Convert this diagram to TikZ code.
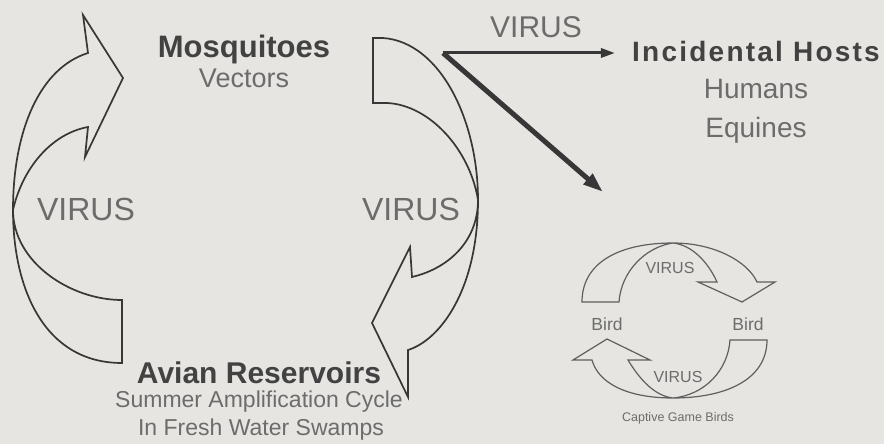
\documentclass[tikz,border=0pt]{standalone}
\usepackage{fontspec}
\setmainfont{Liberation Sans}
\usetikzlibrary{arrows.meta}
\definecolor{paper}{RGB}{230,229,226}
\definecolor{inkgray}{RGB}{55,55,55}
\definecolor{textgray}{RGB}{108,108,108}
\definecolor{headgray}{RGB}{66,66,66}

\begin{document}
\begin{tikzpicture}[x=1pt,y=-1pt,
    band/.style={draw=inkgray, line width=1.7pt, line join=miter},
    smallband/.style={draw=inkgray!80, line width=1.2pt, line join=miter},
    head/.style={font=\fontsize{#1}{#1}\selectfont\bfseries, text=headgray, anchor=base, inner sep=1pt},
    sub/.style={font=\fontsize{#1}{#1}\selectfont, text=textgray, anchor=base, inner sep=1pt},
    thick arrow/.style={draw=inkgray, line width=#1, line join=round}]
  % page, pixel units, y runs downwards
  \fill[paper] (0,0) rectangle (884,444);
  \useasboundingbox (0,0) rectangle (884,444);

  % big loop: left arrow goes up to the mosquitoes, right arrow comes down
  \draw[band] (122,363) -- (122,300)
    .. controls (70,300) and (13,262) .. (13,210)
    .. controls (22,170) and (50,134) .. (88,127)
    -- (85,157) -- (123,78) -- (83,15) -- (88,53)
    .. controls (40,68) and (13,130) .. (13,210)
    .. controls (13,290) and (45,363) .. (122,363) -- cycle;
  \draw[band] (373,103) -- (373,38) -- (383,38)
    .. controls (440,42) and (478,120) .. (478,200)
    .. controls (478,290) and (440,340) .. (408,350)
    -- (408,397) -- (372,323) -- (410,247) -- (412,277)
    .. controls (450,268) and (478,240) .. (478,200)
    .. controls (470,150) and (430,105) .. (387,103) -- cycle;

  \node[head=31] (mosq) at (244,58) {Mosquitoes};
  \node[sub=27] (vect) at (244,88) {Vectors};
  \node[sub=32] (virl) at (86,220) {VIRUS};
  \node[sub=32] (virr) at (411,220) {VIRUS};
  \node[head=30] (avian) at (259,383) {Avian Reservoirs};
  \node[sub=23] (summer) at (259,407) {Summer Amplification Cycle};
  \node[sub=23] (swamp) at (261,435) {In Fresh Water Swamps};

  % spill-over
  \node[head=28, font=\fontsize{28}{28}\selectfont\bfseries\addfontfeature{LetterSpace=8}] (ih) at (756,62) {Incidental Hosts};
  \node[sub=28] (hum) at (756,99) {Humans};
  \node[sub=28] (equ) at (756,137) {Equines};
  \node[sub=30] (virt) at (536,38) {VIRUS};
  \coordinate (split) at (443,53);
  \coordinate (gamein) at (603,192);
  \draw[thick arrow=3pt, -{Triangle[length=14pt,width=9pt]}, shorten >=16pt] (split) -- (split -| ih.west);
  \draw[thick arrow=5pt, -{Triangle[length=20pt,width=13pt]}] (split) -- (gamein);

  % small loop, captive game birds
  \draw[smallband] (582,302) .. controls (582,262) and (620,243) .. (673,243)
    .. controls (715,243) and (748,262) .. (757,282)
    -- (775,282) -- (742,302) -- (698,282) -- (717,282)
    .. controls (708,262) and (692,245) .. (673,243)
    .. controls (645,247) and (621,272) .. (619,302) -- cycle;
  \draw[smallband] (767,340) .. controls (767,380) and (725,398) .. (673,398)
    .. controls (625,398) and (598,382) .. (592,360)
    -- (573,360) -- (607,339) -- (650,360) -- (628,360)
    .. controls (640,380) and (655,396) .. (673,398)
    .. controls (705,395) and (728,370) .. (730,340) -- cycle;
  \node[sub=17.5] (birdl) at (607,330) {Bird};
  \node[sub=17.5] (birdr) at (748,330) {Bird};
  \node[sub=16] (virs1) at (670,273) {VIRUS};
  \node[sub=16] (virs2) at (678,382) {VIRUS};
  \node[sub=12.5] (cgb) at (678,421) {Captive Game Birds};
\end{tikzpicture}
\end{document}
